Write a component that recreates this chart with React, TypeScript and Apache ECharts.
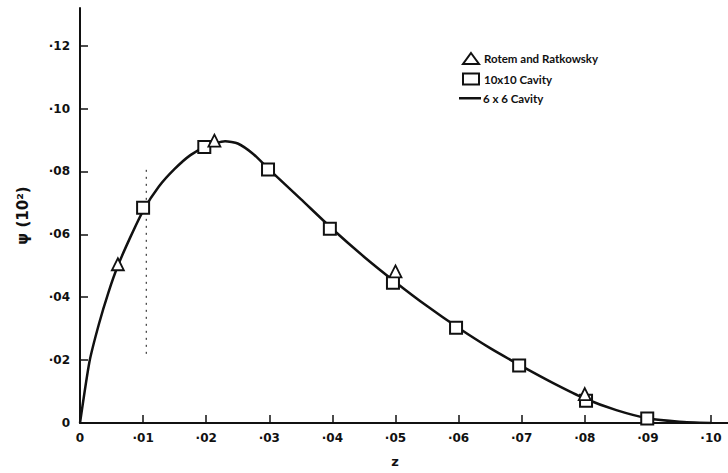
import React, { useEffect, useRef } from "react";
import * as echarts from "echarts";

const xTickValues = [0, 0.01, 0.02, 0.03, 0.04, 0.05, 0.06, 0.07, 0.08, 0.09, 0.1];
const xTickLabels = ["0", "·01", "·02", "·03", "·04", "·05", "·06", "·07", "·08", "·09", "·10"];
const yTickValues = [0, 0.02, 0.04, 0.06, 0.08, 0.1, 0.12];
const yTickLabels = ["0", "·02", "·04", "·06", "·08", "·10", "·12"];

// Rotem and Ratkowsky (triangles)
const rotemX = [0.006, 0.0213, 0.05, 0.08];
const rotemY = [0.0505, 0.0898, 0.0482, 0.0092];

// 10x10 Cavity (squares)
const cav10X = [0.01, 0.0197, 0.0298, 0.0396, 0.0496, 0.0596, 0.0696, 0.0802, 0.0899];
const cav10Y = [0.0685, 0.0878, 0.0806, 0.0618, 0.0446, 0.0303, 0.0183, 0.0071, 0.0014];

// 6 x 6 Cavity (solid curve)
const cav6X = [0, 0.0015, 0.003, 0.0045, 0.006, 0.008, 0.01, 0.0125, 0.015, 0.0175, 0.02, 0.023, 0.025, 0.0275, 0.03, 0.035, 0.04, 0.045, 0.05, 0.055, 0.06, 0.065, 0.07, 0.075, 0.08, 0.085, 0.09, 0.095, 0.1];
const cav6Y = [0, 0.0195, 0.0315, 0.0415, 0.05, 0.0592, 0.0675, 0.0752, 0.0808, 0.0852, 0.088, 0.0896, 0.0889, 0.0855, 0.0806, 0.0712, 0.0617, 0.0529, 0.0448, 0.0372, 0.0302, 0.0238, 0.0181, 0.0127, 0.0078, 0.0041, 0.0015, 0.0004, 0];

// dotted vertical marker
const dotX = [0.0105, 0.0105];
const dotY = [0.022, 0.081];

const zip = (xs: number[], ys: number[]) => xs.map((x, i) => [x, ys[i]]);

const FONT = "DejaVu Sans";
const LEGEND_FONT = "Lato";
const INK = "#111";

export default function App() {
  const ref = useRef<HTMLDivElement>(null);
  useEffect(() => {
    if (!ref.current) return;
    const chart = echarts.init(ref.current, null, { renderer: "svg" });
    chart.setOption({
      animation: false,
      backgroundColor: "#fff",
      grid: { left: 80, right: 0, top: 8, bottom: 43 },
      legend: {
        orient: "vertical",
        left: 457,
        top: 47,
        itemWidth: 16,
        itemHeight: 11,
        itemGap: 7.5,
        data: ["Rotem and Ratkowsky", "10x10 Cavity"],
        textStyle: { fontFamily: LEGEND_FONT, fontSize: 11.5, fontWeight: "bold", color: INK },
      },
      graphic: [
        {
          type: "rect",
          shape: { x: 459, y: 97, width: 22, height: 2.5 },
          style: { fill: INK },
        },
        {
          type: "text",
          x: 483,
          y: 98,
          style: {
            text: "6 x 6 Cavity",
            fontFamily: LEGEND_FONT,
            fontSize: 11.5,
            fontWeight: "bold",
            fill: INK,
            verticalAlign: "middle",
          },
        },
      ],
      xAxis: {
        type: "value",
        min: 0,
        max: 0.1027,
        name: "z",
        nameLocation: "middle",
        nameGap: 32,
        nameTextStyle: { fontFamily: FONT, fontSize: 13, fontWeight: "bold", color: INK, padding: [0, 18, 0, 0] },
        axisLine: { show: true, lineStyle: { color: INK, width: 2 } },
        axisTick: { show: true, inside: true, length: 8, lineStyle: { color: INK, width: 1.5 }, customValues: xTickValues },
        axisLabel: {
          customValues: xTickValues,
          margin: 9,
          fontFamily: FONT,
          fontSize: 12,
          fontWeight: "bold",
          color: INK,
          formatter: (v: number) => {
            const i = xTickValues.findIndex((t) => Math.abs(t - v) < 1e-9);
            return i >= 0 ? xTickLabels[i] : "";
          },
        },
        splitLine: { show: false },
      },
      yAxis: {
        type: "value",
        min: 0,
        max: 0.132,
        name: "ψ (10²)",
        nameLocation: "middle",
        nameRotate: 90,
        nameGap: 50,
        nameTextStyle: { fontFamily: FONT, fontSize: 15, fontWeight: "bold", color: INK },
        axisLine: { show: true, lineStyle: { color: INK, width: 2 } },
        axisTick: { show: true, inside: true, length: 8, lineStyle: { color: INK, width: 1.5 }, customValues: yTickValues },
        axisLabel: {
          customValues: yTickValues,
          margin: 10,
          fontFamily: FONT,
          fontSize: 12,
          fontWeight: "bold",
          color: INK,
          formatter: (v: number) => {
            const i = yTickValues.findIndex((t) => Math.abs(t - v) < 1e-9);
            return i >= 0 ? yTickLabels[i] : "";
          },
        },
        splitLine: { show: false },
      },
      series: [
        {
          name: "6 x 6 Cavity",
          type: "line",
          data: zip(cav6X, cav6Y),
          smooth: 0.2,
          symbol: "none",
          lineStyle: { color: INK, width: 2.5 },
          itemStyle: { color: INK },
          z: 2,
        },
        {
          name: "dotted",
          type: "line",
          data: zip(dotX, dotY),
          symbol: "none",
          lineStyle: { color: INK, width: 1, type: [2, 5] },
          z: 1,
        },
        {
          name: "10x10 Cavity",
          type: "scatter",
          data: zip(cav10X, cav10Y),
          symbol: "rect",
          symbolSize: 12,
          itemStyle: { color: "#fff", borderColor: INK, borderWidth: 2, opacity: 1 },
          z: 3,
        },
        {
          name: "Rotem and Ratkowsky",
          type: "scatter",
          data: zip(rotemX, rotemY),
          symbol: "triangle",
          symbolSize: 12,
          itemStyle: { color: "#fff", borderColor: INK, borderWidth: 1.8, opacity: 1 },
          z: 4,
        },
      ],
    });
    return () => chart.dispose();
  }, []);
  return (
    <div
      ref={ref}
      style={{ position: "fixed", left: 0, top: 0, width: 728, height: 473, background: "#fff" }}
    />
  );
}
